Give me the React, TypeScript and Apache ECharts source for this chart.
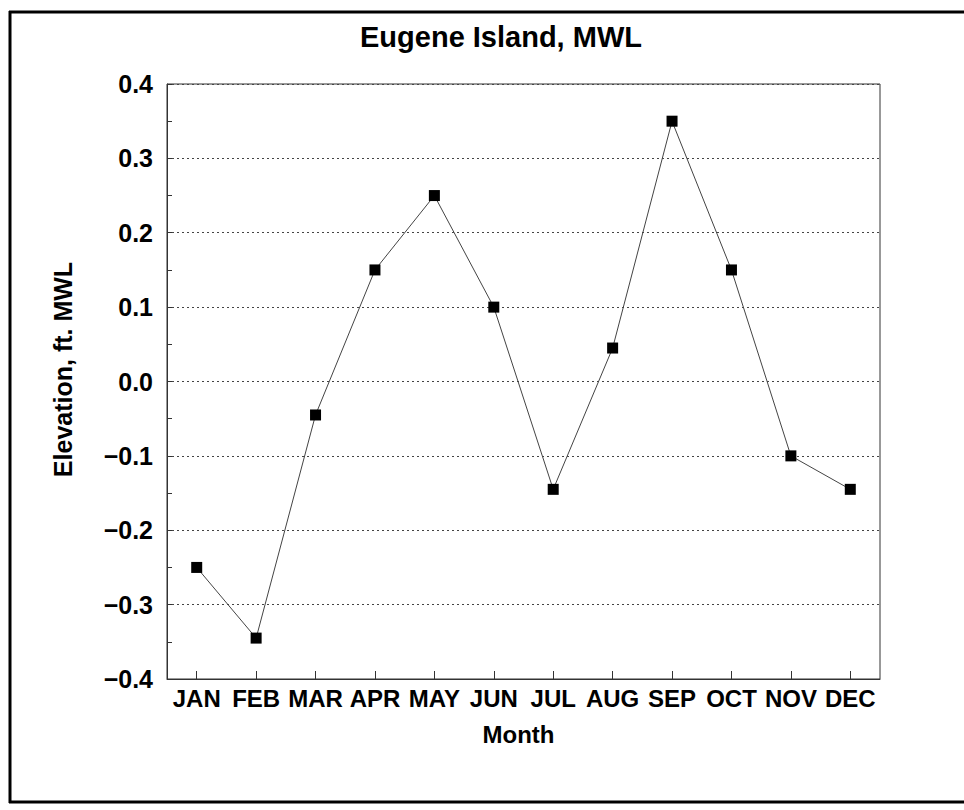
import React, { useEffect, useRef } from "react";
import * as echarts from "echarts";

const months = ["JAN", "FEB", "MAR", "APR", "MAY", "JUN", "JUL", "AUG", "SEP", "OCT", "NOV", "DEC"];
const elevation = [-0.25, -0.345, -0.045, 0.15, 0.25, 0.1, -0.145, 0.045, 0.35, 0.15, -0.1, -0.145];
const titleText = "Eugene Island, MWL";
const yName = "Elevation, ft. MWL";
const xName = "Month";

const FONT = "'Liberation Sans', Arial, Helvetica, sans-serif";

export default function App() {
  const ref = useRef<HTMLDivElement>(null);
  useEffect(() => {
    if (!ref.current) return;
    const chart = echarts.init(ref.current, null, { renderer: "svg" });
    chart.setOption({
      animation: false,
      backgroundColor: "#ffffff",
      title: {
        text: titleText,
        left: 496,
        top: 17,
        textAlign: "center",
        textStyle: { fontFamily: FONT, fontWeight: "bold", fontSize: 29, color: "#000" },
      },
      graphic: [
        { type: "line", shape: { x1: 9, y1: 12, x2: 964, y2: 12 }, style: { stroke: "#000", lineWidth: 3 } },
        { type: "line", shape: { x1: 10, y1: 11, x2: 10, y2: 803 }, style: { stroke: "#000", lineWidth: 3 } },
        { type: "line", shape: { x1: 9, y1: 802, x2: 964, y2: 802 }, style: { stroke: "#000", lineWidth: 3 } },
      ],
      grid: { left: 167, top: 84, width: 713, height: 595, show: true, borderColor: "#333", borderWidth: 1 },
      xAxis: {
        type: "category",
        data: months,
        boundaryGap: true,
        name: xName,
        nameLocation: "middle",
        nameGap: 43,
        nameTextStyle: { fontFamily: FONT, fontWeight: "bold", fontSize: 24, color: "#000", padding: [0, 10, 0, 0] },
        axisLine: { show: true, onZero: false, lineStyle: { color: "#333", width: 1 } },
        axisTick: { show: true, inside: true, alignWithLabel: true, length: 8, lineStyle: { color: "#333" } },
        axisLabel: { margin: 7, fontFamily: FONT, fontWeight: "bold", fontSize: 24, color: "#000", interval: 0 },
        splitLine: { show: false },
      },
      yAxis: {
        type: "value",
        min: -0.4,
        max: 0.4,
        interval: 0.1,
        name: yName,
        nameLocation: "middle",
        nameGap: 92,
        nameTextStyle: { fontFamily: FONT, fontWeight: "bold", fontSize: 25, color: "#000", padding: [0, 0, 0, 24] },
        axisLine: { show: true, lineStyle: { color: "#333", width: 1 } },
        axisTick: { show: true, inside: true, length: 5, lineStyle: { color: "#333" } },
        minorTick: { show: true, splitNumber: 2, length: 5, lineStyle: { color: "#333" } },
        axisLabel: {
          margin: 14,
          fontFamily: FONT,
          fontWeight: "bold",
          fontSize: 25,
          color: "#000",
          formatter: (v: number) => {
            const s = Math.abs(v) < 1e-9 ? "0.0" : Math.abs(v).toFixed(1);
            return v < -1e-9 ? "\u2212" + s : s;
          },
        },
        splitLine: { show: true, lineStyle: { color: "#444", type: [2, 3], width: 1 } },
      },
      series: [
        {
          type: "line",
          data: elevation,
          symbol: "rect",
          symbolSize: 11,
          itemStyle: { color: "#000" },
          lineStyle: { color: "#444", width: 1 },
        },
      ],
    });
    return () => chart.dispose();
  }, []);
  return <div ref={ref} style={{ position: "absolute", left: 0, top: 0, width: 964, height: 810 }} />;
}
